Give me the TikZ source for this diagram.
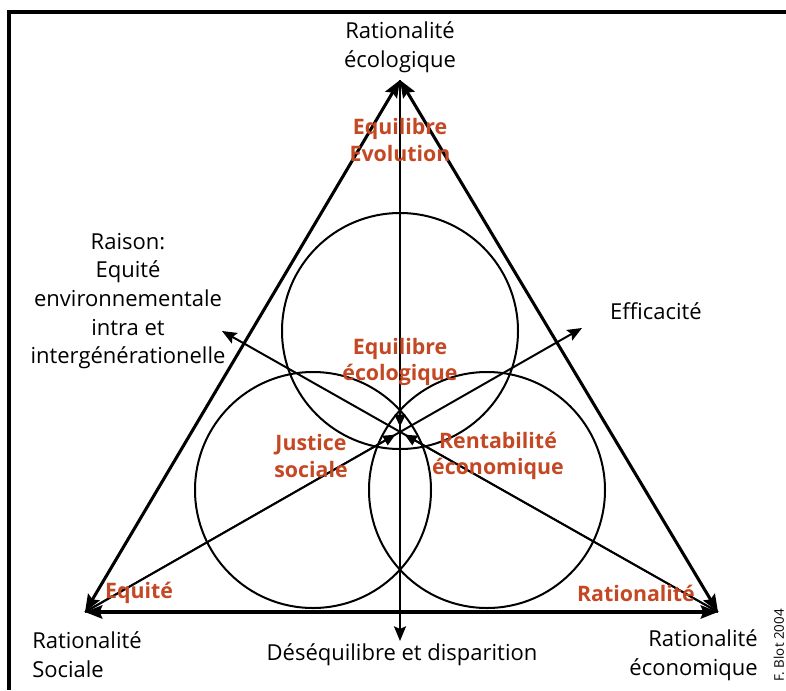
\documentclass[tikz,border=0pt]{standalone}
\usepackage{fontspec}
\setmainfont{Open Sans}
\usetikzlibrary{arrows.meta}
\definecolor{lblred}{RGB}{196,72,36}
\begin{document}
\begin{tikzpicture}[x=0.75pt,y=-0.75pt,
  lbl/.style={font=\fontsize{16.5}{21.5}\selectfont, align=center, inner sep=0pt, text=black},
  rlbl/.style={font=\fontsize{16}{20}\selectfont\bfseries, align=center, inner sep=0pt, text=lblred},
  edgearrow/.style={line width=2.3pt, {Stealth[length=13pt,width=10pt,inset=2pt]}-{Stealth[length=13pt,width=10pt,inset=2pt]}},
  ray/.style={line width=1.5pt, -{Stealth[length=11pt,width=9pt,inset=2pt]}},
  conv/.style={line width=1.3pt, -{Triangle[length=9pt,width=8pt]}, shorten >=4pt},
  ring/.style={line width=1.5pt, draw=black}]
\useasboundingbox (0,0) rectangle (786,690);
\clip (0,0) rectangle (786,690);
\fill[white] (0,0) rectangle (786,690);
% frame
\draw[line width=2.6pt] (9,690) -- (9,12) -- (786,12);

% key points
\coordinate (T) at (400,80);
\coordinate (BL) at (85,612);
\coordinate (BR) at (718,612);
\coordinate (C) at (400,432);
\coordinate (D) at (400,641);
\coordinate (E) at (582,328);
\coordinate (R) at (222,331);

% circles
\draw[ring] (400,331) circle[radius=88.5pt];
\draw[ring] (313,490) circle[radius=88.5pt];
\draw[ring] (487,490) circle[radius=88.5pt];

% rays through the centre
\draw[ray] (T) -- (D);
\draw[ray] (BL) -- (E);
\draw[ray] (BR) -- (R);

% small converging arrows
\draw[conv] (T) -- (C);
\draw[conv] (BL) -- (C);
\draw[conv] (BR) -- (C);

% triangle edges
\draw[edgearrow] (BL) -- (T);
\draw[edgearrow] (BR) -- (T);
\draw[edgearrow] (BL) -- (BR);

% black labels
\node[lbl] (ecolo) at (400,47) {Rationalité\\écologique};
\node[lbl] (raison) at (128,301) {Raison:\\Equité\\environnementale\\intra et\\intergénérationelle};
\node[lbl] (effic) at (656,311) {Efficacité};
\node[lbl] (deseq) at (402,655) {Déséquilibre et disparition};
\node[lbl, align=left, anchor=west] (sociale) at (32,655) {Rationalité\\Sociale};
\node[lbl, align=right, anchor=east] (econ) at (758,655) {Rationalité\\économique};

% red labels
\node[rlbl] (evol) at (400,140) {Equilibre\\Evolution};
\node[rlbl] (eqeco) at (400,362) {Equilibre\\écologique};
\node[rlbl] (justice) at (311,456) {Justice\\sociale};
\node[rlbl] (rentab) at (498,456) {Rentabilité\\économique};
\node[rlbl] (equite) at (139,593) {Equité};
\node[rlbl] (ratio) at (636,593) {Rationalité};

% credit
\node[font=\fontsize{10}{12}\selectfont, rotate=90, anchor=east, inner sep=0pt] (credit) at (779,609) {F. Blot 2004};
\end{tikzpicture}
\end{document}
